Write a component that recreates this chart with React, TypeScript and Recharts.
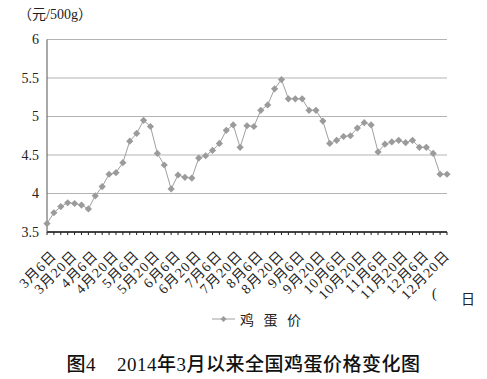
import { LineChart, Line, XAxis, YAxis, CartesianGrid } from 'recharts';

// 鸡蛋价格（元/500g），2014年3月6日起，约每5天一个数据
const PRICES = [
    3.61, 3.75, 3.83, 3.88, 3.87, 3.85, 3.80, 3.97, 4.09, 4.25,
    4.27, 4.40, 4.68, 4.78, 4.95, 4.87, 4.52, 4.37, 4.06, 4.24,
    4.21, 4.20, 4.46, 4.49, 4.56, 4.65, 4.82, 4.89, 4.60, 4.88,
    4.87, 5.08, 5.15, 5.36, 5.48, 5.23, 5.23, 5.23, 5.08, 5.08,
    4.94, 4.65, 4.69, 4.74, 4.75, 4.85, 4.92, 4.89, 4.54, 4.64,
    4.67, 4.69, 4.66, 4.69, 4.60, 4.60, 4.52, 4.25, 4.25
];

// 每3个数据点标一个日期
const DATE_LABELS = [
    '3月6日', '3月20日', '4月6日', '4月20日', '5月6日', '5月20日', '6月6日',
    '6月20日', '7月6日', '7月20日', '8月6日', '8月20日', '9月6日', '9月20日',
    '10月6日', '10月20日', '11月6日', '11月20日', '12月6日', '12月20日'
];

const Y_TICKS = [3.5, 4, 4.5, 5, 5.5, 6];

const SERIES_NAME = '鸡 蛋 价';

const data = PRICES.map((price, i) => ({ i, price }));

const FONT = '"Liberation Serif", "Noto Sans CJK SC", serif';

const DateTick = ({ x, y, payload }: any) => {
    const idx = payload.value;
    if (idx % 3 !== 0) return null;
    const label = DATE_LABELS[idx / 3];
    if (!label) return null;
    return (
        <g transform={`translate(${x + 7},${y + 16})`}>
            <text
                x={0}
                y={0}
                dy="0.35em"
                textAnchor="end"
                transform="rotate(-45)"
                fontSize={14}
                letterSpacing={1}
                fontFamily={FONT}
                fill="#222"
            >
                {label}
            </text>
        </g>
    );
};

const Diamond = ({ cx, cy }: any) => {
    if (cx == null || cy == null) return null;
    const r = 3.6;
    return <path d={`M${cx},${cy - r}L${cx + r},${cy}L${cx},${cy + r}L${cx - r},${cy}Z`} fill="#9b9b9b" />;
};

export default function App() {
    return (
        <div style={{ position: 'absolute', left: 0, top: 0, width: 487, height: 379, background: '#fff', fontFamily: FONT }}>
            <div style={{ position: 'absolute', left: 18, top: 3, fontSize: 14, color: '#222' }}>（元/500g）</div>

            <LineChart
                width={487}
                height={379}
                data={data}
                margin={{ top: 39.5, right: 40, left: 7, bottom: 87 }}
            >
                <CartesianGrid vertical={false} stroke="#b4b4b4" strokeWidth={1.2} />
                <XAxis
                    dataKey="i"
                    type="category"
                    interval={0}
                    height={60}
                    tick={<DateTick />}
                    tickSize={3}
                    tickLine={{ stroke: '#222' }}
                    axisLine={{ stroke: '#111', strokeWidth: 1.6 }}
                />
                <YAxis
                    domain={[3.5, 6]}
                    ticks={Y_TICKS}
                    width={40}
                    tickLine={false}
                    tickSize={0}
                    tickMargin={8}
                    axisLine={{ stroke: '#555' }}
                    tick={{ fontSize: 14, fill: '#222', fontFamily: FONT }}
                />
                <Line
                    type="linear"
                    dataKey="price"
                    name={SERIES_NAME}
                    stroke="#a0a0a0"
                    strokeWidth={1}
                    dot={<Diamond />}
                    activeDot={false}
                    isAnimationActive={false}
                />
            </LineChart>

            <div style={{ position: 'absolute', left: 432, top: 286, fontSize: 14, color: '#222' }}>(</div>
            <div style={{ position: 'absolute', left: 461, top: 288, fontSize: 14, color: '#222' }}>日</div>

            {/* legend */}
            <div style={{ position: 'absolute', left: 212, top: 309, display: 'flex', alignItems: 'center' }}>
                <svg width={24} height={18}>
                    <line x1={0} y1={9} x2={23} y2={9} stroke="#a0a0a0" strokeWidth={1} />
                    <path d="M11.5,6L14.5,9L11.5,12L8.5,9Z" fill="#9b9b9b" />
                </svg>
                <span style={{ fontSize: 14, marginLeft: 4, letterSpacing: 3, color: '#222' }}>{SERIES_NAME}</span>
            </div>

            {/* caption */}
            <div style={{ position: 'absolute', left: 0, top: 349, width: 487, textAlign: 'center', fontSize: 19, fontWeight: 500, letterSpacing: 0.5, color: '#111', whiteSpace: 'pre' }}>
                图4    2014年3月以来全国鸡蛋价格变化图
            </div>
        </div>
    );
}
